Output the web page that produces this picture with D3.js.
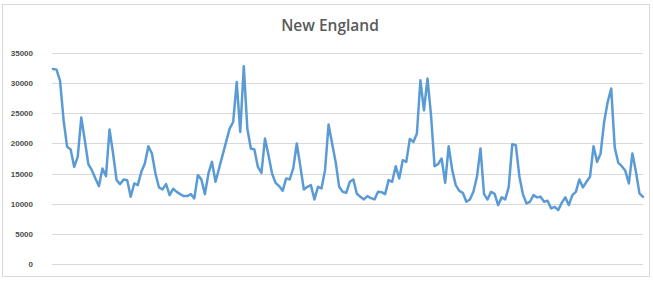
<!DOCTYPE html>
<meta charset="utf-8">
<script src="https://d3js.org/d3.v7.min.js"></script>
<style>
  body { margin: 0; background: #fff; }
</style>
<div id="chart"></div>
<script>

// monthly values
const values = [
  32340, 32240, 30360, 23850, 19430, 18990, 16110, 17770, 24290, 20530,
  16560, 15570, 14190, 12920, 15850, 14570, 22310, 18330, 13910, 13250,
  14030, 13910, 11150, 13360, 13080, 15290, 16680, 19540, 18330, 15020,
  12700, 12370, 13250, 11430, 12470, 11970, 11590, 11260, 11260, 11590,
  10880, 14740, 14030, 11590, 15020, 16940, 13630, 15850, 18050,
  20250, 22470, 23560, 30190, 21910, 32790, 22470, 19160, 18990, 16110,
  15120, 20810, 18050, 15020, 13460, 12920, 12140, 14190, 14030, 15850,
  19990, 16230, 12370, 12800, 13080, 10710, 12800, 12540, 15570, 23130,
  19990, 16940, 12800, 11970, 11810, 13630, 14030, 11640, 11150, 10710,
  11260, 10930, 10710, 11970, 11920, 11590, 13910, 13630, 16230, 14190,
  17220, 16940, 20750, 20250, 21640, 30470, 25500, 30750, 24670, 16230,
  16560, 17500, 13460, 19540, 15570, 13080, 12140, 11810, 10320, 10710,
  11970, 14460, 19160, 11590, 10710, 11970, 11640, 9770, 11050, 10710,
  12800, 19870, 19710, 14570, 11590, 10050, 10320, 11430, 11050, 11150,
  10320, 10480, 9220, 9490, 8940, 10150, 11050, 9770, 11430, 11970,
  14030, 12700, 13630, 14460, 19540, 16940, 18330, 23560, 26880, 29100,
  19320, 16780, 16230, 15450, 13360, 18330, 15290, 11710, 11150
];
const yTicks = [0, 5000, 10000, 15000, 20000, 25000, 30000, 35000];
const title = "New England";

const W = 653, H = 281;
const margin = {top: 53, right: 10, bottom: 17, left: 52};
const width = 643 - margin.left, height = 264 - margin.top;

const svg = d3.select("#chart").append("svg")
  .attr("width", W).attr("height", H);

// chart border
svg.append("rect")
  .attr("x", 2.5).attr("y", 4.5)
  .attr("width", 647).attr("height", 272)
  .attr("fill", "#fff").attr("stroke", "#d9d9d9");

svg.append("text")
  .attr("x", 330).attr("y", 31)
  .attr("text-anchor", "middle")
  .attr("font-family", "Open Sans, sans-serif")
  .attr("font-weight", 600)
  .attr("font-size", 15.5)
  .attr("fill", "#595959")
  .text(title);

const g = svg.append("g")
  .attr("transform", `translate(${margin.left},${margin.top})`);

const x = d3.scaleLinear()
  .domain([0, values.length - 1])
  .range([1, width]);
const y = d3.scaleLinear()
  .domain([0, 35000])
  .range([height, 0]);

// gridlines
g.selectAll(".grid")
  .data(yTicks)
  .join("line")
    .attr("class", "grid")
    .attr("x1", 0).attr("x2", width)
    .attr("y1", d => Math.round(y(d)) + 0.5)
    .attr("y2", d => Math.round(y(d)) + 0.5)
    .attr("stroke", "#d9d9d9")
    .attr("stroke-width", 1);

// y axis labels
const yAxis = g.append("g")
  .call(d3.axisLeft(y).tickValues(yTicks).tickSize(0).tickPadding(19).tickFormat(d3.format("d")));
yAxis.select(".domain").remove();
yAxis.selectAll("text")
  .attr("font-family", "Liberation Sans, Arial, sans-serif")
  .attr("font-weight", "bold")
  .attr("font-size", 8)
  .attr("fill", "#4d4d4d");

// the series
g.append("path")
  .datum(values)
  .attr("fill", "none")
  .attr("stroke", "#5b9bd5")
  .attr("stroke-width", 2.5)
  .attr("stroke-linejoin", "round")
  .attr("stroke-linecap", "round")
  .attr("d", d3.line().x((d, i) => x(i)).y(d => y(d)));

</script>
